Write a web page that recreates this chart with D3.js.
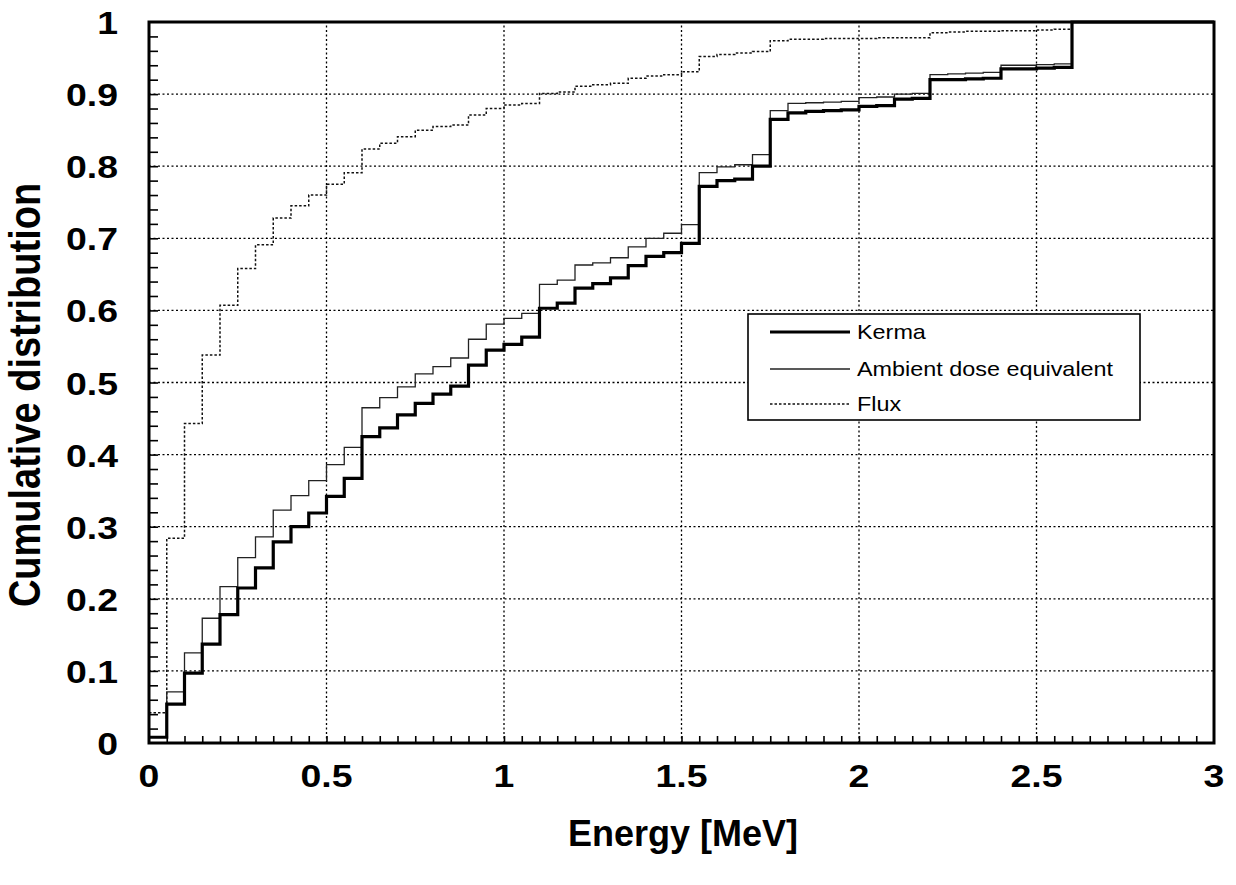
<!DOCTYPE html>
<html><head><meta charset="utf-8">
<script src="https://cdn.jsdelivr.net/npm/d3@7"></script>
<style>html,body{margin:0;padding:0;background:#fff;}svg{display:block;}</style>
</head><body>
<svg id="c" width="1236" height="885"></svg>
<script>
const energy = [0,0.05,0.1,0.15,0.2,0.25,0.3,0.35,0.4,0.45,0.5,0.55,0.6,0.65,0.7,0.75,0.8,0.85,0.9,0.95,1.0,1.05,1.1,1.15,1.2,1.25,1.3,1.35,1.4,1.45,1.5,1.55,1.6,1.65,1.7,1.75,1.8,1.85,1.9,1.95,2.0,2.05,2.1,2.15,2.2,2.25,2.3,2.35,2.4,2.45,2.5,2.55,2.6,3.0];
const kerma = [0.008,0.054,0.097,0.137,0.178,0.215,0.243,0.279,0.300,0.319,0.342,0.367,0.425,0.437,0.455,0.471,0.484,0.495,0.524,0.545,0.553,0.563,0.603,0.610,0.631,0.637,0.645,0.662,0.675,0.680,0.693,0.772,0.780,0.782,0.800,0.865,0.874,0.876,0.877,0.878,0.883,0.884,0.893,0.894,0.920,0.920,0.921,0.922,0.935,0.935,0.936,0.937,1.0,1.0];
const ambient = [0.008,0.071,0.125,0.173,0.217,0.257,0.286,0.323,0.343,0.364,0.386,0.410,0.465,0.479,0.494,0.512,0.522,0.534,0.560,0.581,0.589,0.596,0.636,0.642,0.663,0.666,0.673,0.688,0.700,0.707,0.719,0.791,0.799,0.802,0.816,0.877,0.887,0.888,0.889,0.890,0.895,0.896,0.900,0.901,0.927,0.928,0.929,0.930,0.940,0.940,0.941,0.942,1.0,1.0];
const flux = [0.042,0.284,0.443,0.538,0.607,0.658,0.691,0.728,0.745,0.760,0.775,0.791,0.824,0.832,0.841,0.850,0.855,0.857,0.871,0.880,0.885,0.887,0.901,0.903,0.911,0.913,0.915,0.922,0.925,0.927,0.931,0.952,0.955,0.957,0.959,0.974,0.976,0.976,0.977,0.977,0.977,0.978,0.978,0.978,0.985,0.986,0.987,0.987,0.988,0.988,0.989,0.990,1.0,1.0];
const xTicks = [0,0.5,1,1.5,2,2.5,3];
const xTickLabels = ["0","0.5","1","1.5","2","2.5","3"];
const yTicks = [0,0.1,0.2,0.3,0.4,0.5,0.6,0.7,0.8,0.9,1];
const yTickLabels = ["0","0.1","0.2","0.3","0.4","0.5","0.6","0.7","0.8","0.9","1"];
const seriesNames = ["Kerma","Ambient dose equivalent","Flux"];

const svg = d3.select("#c");
const x = d3.scaleLinear().domain([0,3]).range([149,1214]);
const y = d3.scaleLinear().domain([0,1]).range([743,22]);
const FONT = "'Liberation Sans', Arial, sans-serif";
const SX = 1.17;

// grid
const grid = svg.append("g").attr("stroke","#000").attr("stroke-width",1.3).attr("stroke-dasharray","2,2.5").attr("fill","none");
xTicks.filter(v=>v>0&&v<3).forEach(v=>{
  grid.append("line").attr("x1",x(v)).attr("x2",x(v)).attr("y1",y(0)).attr("y2",y(1));
});
yTicks.filter(v=>v>0&&v<1).forEach(v=>{
  grid.append("line").attr("x1",x(0)).attr("x2",x(3)).attr("y1",y(v)).attr("y2",y(v));
});

// minor ticks
const xMinor = d3.axisBottom(x).tickValues(d3.range(1,60).map(i=>i*0.05)).tickSize(-7).tickFormat("");
const gxm = svg.append("g").attr("transform",`translate(0,${y(0)})`).call(xMinor);
gxm.select(".domain").remove();
gxm.selectAll("line").attr("stroke","#000").attr("stroke-width",1.6);
const yMinor = d3.axisLeft(y).tickValues(d3.range(1,50).map(i=>i*0.02)).tickSize(-9).tickFormat("");
const gym = svg.append("g").attr("transform",`translate(${x(0)},0)`).call(yMinor);
gym.select(".domain").remove();
gym.selectAll("line").attr("stroke","#000").attr("stroke-width",1.6);

// lines
const pts = arr => energy.map((e,i)=>[e,arr[i]]);
const line = d3.line().x(d=>x(d[0])).y(d=>y(d[1])).curve(d3.curveStepAfter);
svg.append("path").datum(pts(flux)).attr("d",line).attr("fill","none").attr("stroke","#111").attr("stroke-width",1.5).attr("stroke-dasharray","2.5,2");
svg.append("path").datum(pts(ambient)).attr("d",line).attr("fill","none").attr("stroke","#222").attr("stroke-width",1.3);
svg.append("path").datum(pts(kerma)).attr("d",line).attr("fill","none").attr("stroke","#000").attr("stroke-width",3.2);

// frame
svg.append("rect").attr("x",x(0)).attr("y",y(1)).attr("width",x(3)-x(0)).attr("height",y(0)-y(1))
  .attr("fill","none").attr("stroke","#000").attr("stroke-width",3);

// tick labels
const txt = (g, px, py, s, size, anchor) => {
  g.append("g").attr("transform",`translate(${px},${py}) scale(${SX},1)`)
    .append("text").attr("text-anchor",anchor).attr("font-family",FONT).attr("font-weight","bold")
    .attr("font-size",size).attr("fill","#000").text(s);
};
const labels = svg.append("g");
yTicks.forEach((v,i)=>txt(labels,118,y(v)+12,yTickLabels[i],32,"end"));
xTicks.forEach((v,i)=>txt(labels,x(v),787,xTickLabels[i],32,"middle"));

// axis titles
svg.append("g").attr("transform",`translate(683,846)`)
  .append("text").attr("text-anchor","middle").attr("font-family",FONT).attr("font-weight","bold")
  .attr("font-size",36).text("Energy [MeV]");
svg.append("g").attr("transform",`translate(40,395) rotate(-90) scale(1,${SX})`)
  .append("text").attr("text-anchor","middle").attr("font-family",FONT).attr("font-weight","bold")
  .attr("font-size",38).text("Cumulative distribution");

// legend
const lg = svg.append("g");
lg.append("rect").attr("x",748).attr("y",314).attr("width",392).attr("height",106).attr("fill","#fff").attr("stroke","#000").attr("stroke-width",1.6);
const lys = [332,369,404];
const lstyles = [{w:3.2,d:null,c:"#000"},{w:1.3,d:null,c:"#222"},{w:1.5,d:"2.5,2",c:"#111"}];
seriesNames.forEach((n,i)=>{
  const l = lg.append("line").attr("x1",770).attr("x2",850).attr("y1",lys[i]).attr("y2",lys[i])
    .attr("stroke",lstyles[i].c).attr("stroke-width",lstyles[i].w);
  if(lstyles[i].d) l.attr("stroke-dasharray",lstyles[i].d);
  lg.append("g").attr("transform",`translate(857,${lys[i]+7}) scale(${SX},1)`)
    .append("text").attr("font-family",FONT).attr("font-size",20).attr("fill","#000").text(n);
});
</script>
</body></html>
